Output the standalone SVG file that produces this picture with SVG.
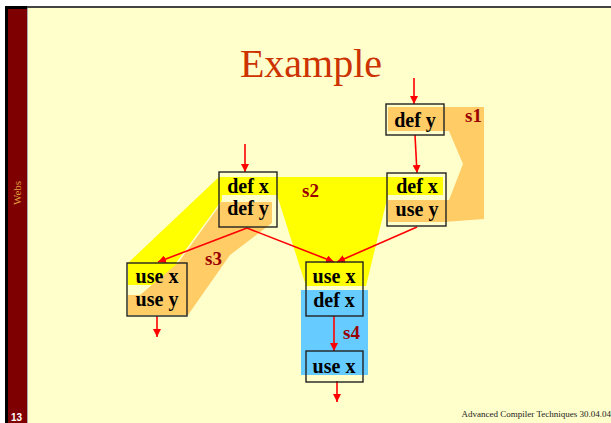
<svg xmlns="http://www.w3.org/2000/svg" width="611" height="423" viewBox="0 0 611 423">
<defs>
<style>
.box{fill:none;stroke:#222;stroke-width:1.4}
.t{font-family:"Liberation Serif",serif;font-weight:bold;font-size:20px;fill:#000;text-anchor:middle}
.lbl{font-family:"Liberation Serif",serif;font-weight:bold;font-size:19px;fill:#990000}
.e{stroke:#ff0000;stroke-width:1.6;fill:none;marker-end:url(#ah)}
.yel{fill:#ffff00}
.org{fill:#ffcc66}
.blu{fill:#66ccff}
</style>
<marker id="ah" viewBox="0 0 10 10" refX="10" refY="5" markerWidth="5" markerHeight="5" orient="auto" markerUnits="strokeWidth">
<path d="M0,0 L10,5 L0,10 z" fill="#ff0000"/>
</marker>
</defs>
<rect width="611" height="423" fill="#ffffff"/>
<rect x="5" y="6" width="606" height="417" fill="#ffffcc"/>
<rect x="5" y="6" width="606" height="2" fill="#444"/>
<rect x="5" y="6" width="3" height="417" fill="#000"/>
<rect x="8" y="8" width="19" height="415" fill="#7f0000"/>
<rect x="5" y="6" width="22" height="3" fill="#000"/>
<line x1="27.5" y1="8" x2="27.5" y2="423" stroke="#aaa" stroke-width="1"/>
<text x="21" y="193" transform="rotate(-90 21 193)" font-family="Liberation Serif, serif" font-size="11" fill="#e0a040" text-anchor="middle">Webs</text>
<text x="11" y="421" font-family="Liberation Sans, sans-serif" font-size="10" font-weight="bold" fill="#ffffff">13</text>
<text x="311" y="77" font-family="Liberation Serif, serif" font-size="40" fill="#cc3300" text-anchor="middle">Example</text>
<text x="611" y="417" font-family="Liberation Serif, serif" font-size="9" fill="#222" text-anchor="end">Advanced Compiler Techniques 30.04.04</text>

<g id="regions">
<polygon id="s2" class="yel" points="219,177 443,177 443,195 388,195 366,286 306,286 277,195 222,195 222,200 176,263 187,263 187,285 128,285 128,263"/>
<polygon id="s1" class="org" points="388,107 484,107 484,219 444,222 388,222 388,200 449,200 463,164 449,131 388,131"/>
<polygon id="s3" class="org" points="220,202 272,202 272,223 230,255 188,315 128,315 128,295 140,295 178,263 220,205"/>
<rect id="s4" class="blu" x="301" y="290" width="67" height="85"/>
</g>

<g id="connectors">
<line class="e" x1="414" y1="78" x2="414" y2="104"/>
<line class="e" x1="415" y1="135" x2="417" y2="173"/>
<line class="e" x1="245" y1="144" x2="245" y2="172"/>
<line class="e" x1="247" y1="228" x2="158" y2="262"/>
<line class="e" x1="247" y1="228" x2="334" y2="262"/>
<line class="e" x1="417" y1="227" x2="337" y2="262"/>
<line class="e" x1="334" y1="316" x2="334" y2="351"/>
<line class="e" x1="337" y1="381" x2="337" y2="402"/>
<line class="e" x1="157" y1="316" x2="157" y2="337"/>
</g>

<g id="n1">
<rect class="box" x="386" y="104" width="58" height="31"/>
<text class="t" x="415" y="127">def y</text>
</g>
<g id="n2">
<rect class="box" x="387" y="173" width="59" height="53"/>
<text class="t" x="417" y="193">def x</text>
<text class="t" x="417" y="216">use y</text>
</g>
<g id="n3">
<rect class="box" x="219" y="172" width="58" height="55"/>
<text class="t" x="248" y="193">def x</text>
<text class="t" x="248" y="215">def y</text>
</g>
<g id="n4">
<rect class="box" x="127" y="263" width="60" height="53"/>
<text class="t" x="157" y="283">use x</text>
<text class="t" x="157" y="306">use y</text>
</g>
<g id="n5">
<rect class="box" x="306" y="262" width="57" height="54"/>
<text class="t" x="334" y="283">use x</text>
<text class="t" x="334" y="307">def x</text>
</g>
<g id="n6">
<rect class="box" x="306" y="351" width="57" height="31"/>
<text class="t" x="334" y="373">use x</text>
</g>

<g id="labels">
<text class="lbl" x="465" y="122">s1</text>
<text class="lbl" x="302" y="197">s2</text>
<text class="lbl" x="205" y="265">s3</text>
<text class="lbl" x="343" y="339">s4</text>
</g>
</svg>
